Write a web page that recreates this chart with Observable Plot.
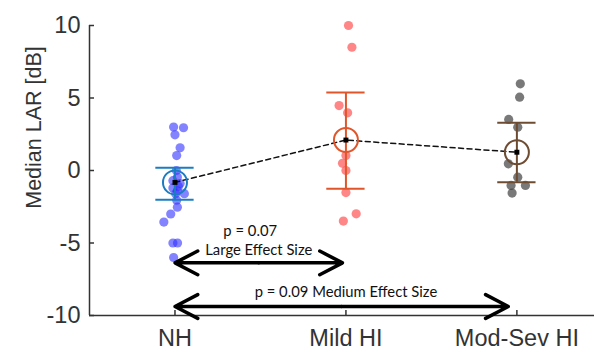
<!DOCTYPE html>
<html><head><meta charset="utf-8">
<script src="https://cdn.jsdelivr.net/npm/d3@7"></script>
<script src="https://cdn.jsdelivr.net/npm/@observablehq/plot@0.6"></script>
<style>body{margin:0;background:#fff}</style>
</head><body><div id="chart"></div>
<script>
// categories
const groups = ["NH", "Mild HI", "Mod-Sev HI"];
const groupPos = [1, 2, 3];

// individual participants (median LAR, dB) and their horizontal jitter (x units)
const nhValues  = [3.0, 2.95, 2.46, 1.57, 1.03, 0.0, -0.45, -0.7, -0.9, -1.1, -1.2, -1.4, -1.6, -1.6, -2.05, -2.53, -3.0, -3.56, -5.0, -5.0, -6.0];
const nhJitter  = [-0.008, 0.05, 0.0, 0.03, 0.01, 0.008, 0.014, -0.012, 0.03, 0.02, -0.012, 0.014, 0.004, 0.055, 0.01, 0.014, -0.025, -0.065, -0.012, 0.015, -0.008];
const mildValues = [10.0, 8.5, 4.48, 3.98, 1.03, 0.5, 0.0, -1.52, -2.99, -3.49];
const mildJitter = [0.015, 0.035, -0.04, 0.01, 0.0, -0.02, 0.0, 0.0, 0.06, -0.015];
const modValues = [5.98, 5.06, 3.52, 2.99, 0.46, -0.46, -1.03, -1.03, -1.56];
const modJitter = [0.02, 0.016, -0.048, 0.005, -0.05, 0.005, -0.034, 0.05, -0.028];

// group summaries
const means   = [-0.82, 2.1, 1.26];
const errLow  = [-2.02, -1.26, -0.81];
const errHigh = [0.19, 5.38, 3.29];

// comparison arrows and labels
const compFrom = [1, 1];
const compTo   = [1.98, 2.95];
const compY    = [-6.37, -9.38];
const annotLabels = ["p = 0.07", "Large Effect Size", "p = 0.09 Medium Effect Size"];
const annotX = [1.44, 1.49, 2.0];
const annotY = [-4.2, -5.52, -8.39];

// axes
const yTicks = [-10, -5, 0, 5, 10];
const yDomain = [-10, 10];
const xDomain = [0.5, 3.454];
const yLabel = "Median LAR [dB]";

const dotColors = ["#3030ff", "#ff5252", "#404040"];
const dotOpacity = [0.6, 0.7, 0.7];
const groupColors = ["#1b7cc2", "#e0562a", "#6e4c32"];

const valueSets = [nhValues, mildValues, modValues];
const jitterSets = [nhJitter, mildJitter, modJitter];

const summary = groups.map((name, i) => ({name, x: groupPos[i], mean: means[i], lo: errLow[i], hi: errHigh[i], color: groupColors[i]}));
const capHalf = 0.112;
const arrowHalves = compFrom.flatMap((f, i) => {
  const m = (f + compTo[i]) / 2;
  return [{x1: m, x2: f, y: compY[i]}, {x1: m, x2: compTo[i], y: compY[i]}];
});

const dotMarks = valueSets.map((vals, g) =>
  Plot.dot(vals.map((v, i) => ({x: groupPos[g] + jitterSets[g][i], y: v})),
    {x: "x", y: "y", r: 4.6, fill: dotColors[g], fillOpacity: dotOpacity[g], stroke: "none"}));

const chart = Plot.plot({
  width: 594, height: 351,
  marginLeft: 89, marginRight: 0, marginTop: 25, marginBottom: 36,
  x: {domain: xDomain},
  y: {domain: yDomain},
  style: {fontFamily: "'Liberation Sans', Arial, sans-serif", fontSize: "23.5px", background: "#fff", color: "#333"},
  marks: [
    Plot.ruleX([xDomain[0]], {stroke: "#333", strokeWidth: 1.5}),
    Plot.ruleY([yDomain[0]], {stroke: "#333", strokeWidth: 1.5}),
    Plot.axisY({ticks: yTicks, tickFormat: d => String(d), tickSize: -5, tickPadding: 14, label: null, strokeWidth: 1.5}),
    Plot.axisX({ticks: groupPos, tickFormat: d => groups[groupPos.indexOf(d)], tickSize: -5, tickPadding: 19, label: null, strokeWidth: 1.5}),
    Plot.text([yLabel], {frameAnchor: "top-left", dx: -64, dy: 102, rotate: -90, fontSize: 21.5, fill: "#333", textAnchor: "middle"}),
    ...dotMarks,
    Plot.ruleX(summary, {x: "x", y1: "lo", y2: "hi", stroke: "color", strokeWidth: 2}),
    Plot.ruleY(summary, {y: "lo", x1: d => d.x - capHalf, x2: d => d.x + capHalf, stroke: "color", strokeWidth: 2}),
    Plot.ruleY(summary, {y: "hi", x1: d => d.x - capHalf, x2: d => d.x + capHalf, stroke: "color", strokeWidth: 2}),
    Plot.line(summary, {x: "x", y: "mean", stroke: "#111", strokeWidth: 1.5, strokeDasharray: "5,3.5"}),
    Plot.dot(summary, {x: "x", y: "mean", r: 12, stroke: "color", strokeWidth: 2, fill: "none"}),
    Plot.dot(summary, {x: "x", y: "mean", r: 2.8, symbol: "square", fill: "#000", stroke: "none"}),
    Plot.arrow(arrowHalves, {x1: "x1", y1: "y", x2: "x2", y2: "y", stroke: "#000", strokeWidth: 3.5, headAngle: 55, headLength: 11}),
    Plot.text(annotLabels, {x: (d, i) => annotX[i], y: (d, i) => annotY[i], text: d => d, fontFamily: "Lato, 'Open Sans', sans-serif", fontSize: 14.8, fill: "#111"})
  ]
});
document.getElementById("chart").appendChild(chart);
</script>
</body></html>
